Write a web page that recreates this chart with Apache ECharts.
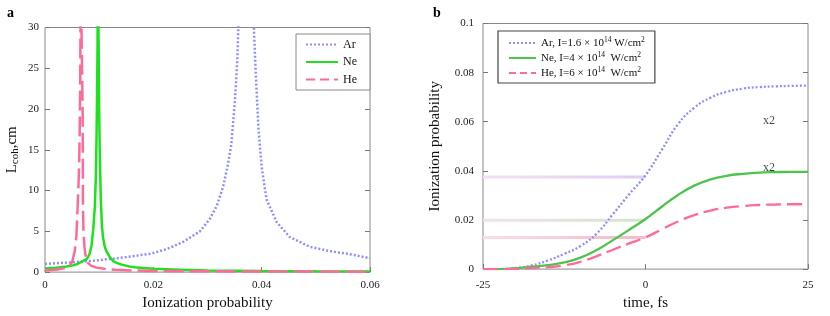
<!DOCTYPE html>
<html><head><meta charset="utf-8">
<script src="https://cdn.jsdelivr.net/npm/echarts@6/dist/echarts.min.js"></script>
<style>html,body{margin:0;padding:0;background:#fff}#c{width:830px;height:316px}</style>
</head><body><div id="c"></div>
<script>
// ---- Panel a: coherence length vs ionization probability ----
var probAr = [0, 0.005, 0.01, 0.015, 0.0194, 0.0224, 0.0255, 0.0286, 0.0304, 0.0317, 0.0329, 0.0338, 0.0344, 0.03505, 0.0355, 0.0357, 0.0359, 0.0384, 0.03856, 0.0389, 0.0394, 0.040, 0.0409, 0.0428, 0.0452, 0.0489, 0.0532, 0.0563, 0.06];
var lcohAr  = [1.0, 1.2, 1.45, 1.85, 2.24, 2.8, 3.7, 5.0, 6.5, 8.1, 10.5, 13.3, 15.7, 20.9, 26, 30, 38, 38, 30, 24.5, 17.7, 12.9, 8.9, 6.1, 4.3, 3.1, 2.5, 2.2, 1.7];
var probNe = [0, 0.002, 0.004, 0.005, 0.006, 0.007, 0.0077, 0.008, 0.0083, 0.0086, 0.0089, 0.0092, 0.0094, 0.0095, 0.0096, 0.0097, 0.00975, 0.00985, 0.0099, 0.010, 0.0101, 0.0103, 0.0105, 0.0107, 0.011, 0.0113, 0.012, 0.0126, 0.013, 0.014, 0.0155, 0.017, 0.020, 0.025, 0.030, 0.040, 0.050, 0.060];
var lcohNe  = [0.45, 0.52, 0.68, 0.8, 1.0, 1.35, 1.6, 1.9, 2.4, 3.3, 5.2, 8, 12, 16, 21, 28, 36, 36, 28, 20, 15, 9, 5.8, 4.3, 3.2, 2.6, 1.8, 1.35, 1.2, 0.95, 0.7, 0.55, 0.4, 0.28, 0.2, 0.14, 0.1, 0.08];
var probHe = [0, 0.002, 0.003, 0.004, 0.0045, 0.005, 0.0055, 0.0058, 0.006, 0.0062, 0.0063, 0.0064, 0.0065, 0.00655, 0.0066, 0.0069, 0.00695, 0.007, 0.0071, 0.0073, 0.0075, 0.0078, 0.0085, 0.0095, 0.011, 0.013, 0.016, 0.020, 0.030, 0.040, 0.060];
var lcohHe  = [0.2, 0.3, 0.4, 0.55, 0.75, 1.2, 2.6, 4.5, 7.5, 11, 13, 17, 23, 30, 36, 36, 20, 9, 5, 3, 2.0, 1.2, 0.8, 0.55, 0.4, 0.28, 0.2, 0.14, 0.1, 0.07, 0.05];

// ---- Panel b: ionization probability vs time ----
var timeFs = [-25, -22.5, -20, -17.5, -15, -12.5, -10, -7.5, -5, -2.5, 0, 2.5, 5, 7.5, 10, 12.5, 15, 17.5, 20, 22.5, 25];
var ionAr = [0, 0, 0.0004, 0.0015, 0.0035, 0.0062, 0.0094, 0.0145, 0.0224, 0.0305, 0.0382, 0.0485, 0.0590, 0.0657, 0.0698, 0.0722, 0.0735, 0.0741, 0.0744, 0.0746, 0.0747];
var ionNe = [0, 0, 0.0004, 0.001, 0.0016, 0.0027, 0.0047, 0.0078, 0.0118, 0.0160, 0.0204, 0.0254, 0.0302, 0.0340, 0.0365, 0.0380, 0.0388, 0.0393, 0.0395, 0.0396, 0.0396];
var ionHe = [0, 0, 0.0001, 0.0004, 0.0008, 0.0015, 0.003, 0.0053, 0.0079, 0.0105, 0.0129, 0.0162, 0.0194, 0.0220, 0.0238, 0.0250, 0.0257, 0.0261, 0.0263, 0.0264, 0.0264];
var refLevels = [0.0375, 0.0199, 0.0129];
var refStart = -25, refEnd = 0;
var legendB = {
  ArB: '{t|Ar, I=1.6 \u00d7 10}{s|14}{t| W/cm}{s|2}',
  NeB: '{t|Ne, I=4 \u00d7 10}{s|14}{t|  W/cm}{s|2}',
  HeB: '{t|He, I=6 \u00d7 10}{s|14}{t|  W/cm}{s|2}'
};
var annotT = [19, 19];
var annotP = [0.0603, 0.0414];
var annotText = ['x2', 'x2'];

function pairs(xs, ys) { return xs.map(function (x, i) { return [x, ys[i]]; }); }

var serif = 'Liberation Serif';
var cAr = '#8f8fff', cNeA = '#1fe01f', cNeB = '#4cc44c', cHe = '#ff6b98';

var chart = echarts.init(document.getElementById('c'), null, {renderer: 'canvas'});

var tickLbl = {fontFamily: serif, fontSize: 11, color: '#222'};
function yAx(gi, min, max, interval, pos, showLbl, name, nameGap, extra) {
  var o = {
    gridIndex: gi, type: 'value', min: min, max: max, interval: interval, position: pos,
    axisLine: {show: false, onZero: false}, splitLine: {show: false},
    axisTick: {show: true, inside: true, length: 5, lineStyle: {color: '#777'}},
    axisLabel: Object.assign({show: showLbl, margin: 6}, tickLbl)
  };
  if (name) { o.name = name; o.nameLocation = 'middle'; o.nameGap = nameGap; o.nameRotate = 90; }
  return Object.assign(o, extra || {});
}

var faded = [
  ['#f6dff0', '#dccff3'],
  ['#f6dff0', '#cfe8c9'],
  ['#fbdde8', '#f5b9c8']
];

var series = [
  {name: 'Ar', type: 'line', xAxisIndex: 0, yAxisIndex: 0, data: pairs(probAr, lcohAr), showSymbol: false, symbol: 'none', clip: true,
   lineStyle: {color: cAr, width: 2.5, type: [2, 2]}, itemStyle: {color: cAr}},
  {name: 'Ne', type: 'line', xAxisIndex: 0, yAxisIndex: 0, data: pairs(probNe, lcohNe), showSymbol: false, symbol: 'none', clip: true,
   lineStyle: {color: cNeA, width: 2.5}, itemStyle: {color: cNeA}},
  {name: 'He', type: 'line', xAxisIndex: 0, yAxisIndex: 0, data: pairs(probHe, lcohHe), showSymbol: false, symbol: 'none', clip: true,
   lineStyle: {color: cHe, width: 2.5, type: [20, 6]}, itemStyle: {color: cHe}}
];
refLevels.forEach(function (lv, i) {
  series.push({name: 'ref' + i, type: 'line', xAxisIndex: 1, yAxisIndex: 2, symbol: 'none', silent: true,
    data: [[refStart, lv], [refEnd, lv]],
    lineStyle: {width: 3, color: new echarts.graphic.LinearGradient(0, 0, 1, 0, [{offset: 0, color: faded[i][0]}, {offset: 1, color: faded[i][1]}])}});
});
series.push(
  {name: 'ArB', type: 'line', xAxisIndex: 1, yAxisIndex: 2, data: pairs(timeFs, ionAr), smooth: 0.5, symbol: 'none',
   lineStyle: {color: cAr, width: 2.3, type: [2, 2]}, itemStyle: {color: cAr}},
  {name: 'NeB', type: 'line', xAxisIndex: 1, yAxisIndex: 2, data: pairs(timeFs, ionNe), smooth: 0.5, symbol: 'none',
   lineStyle: {color: cNeB, width: 2.3}, itemStyle: {color: cNeB}},
  {name: 'HeB', type: 'line', xAxisIndex: 1, yAxisIndex: 2, data: pairs(timeFs, ionHe), smooth: 0.5, symbol: 'none',
   lineStyle: {color: cHe, width: 2.3, type: [15, 6]}, itemStyle: {color: cHe}},
  {name: 'annot', type: 'scatter', xAxisIndex: 1, yAxisIndex: 2, symbol: 'circle', symbolSize: 0.1, silent: true,
   itemStyle: {color: 'rgba(0,0,0,0)'},
   data: annotT.map(function (t, i) { return {value: [t, annotP[i]], label: {formatter: annotText[i]}}; }),
   label: {show: true, position: 'inside', fontFamily: serif, fontSize: 12, color: '#111'}}
);

var hideSym = {opacity: 0};
var option = {
  animation: false,
  backgroundColor: '#fff',
  title: [
    {text: 'a', left: 2, top: 1, textStyle: {fontFamily: serif, fontWeight: 'bold', fontSize: 14, color: '#000'}},
    {text: 'b', left: 428, top: 1, textStyle: {fontFamily: serif, fontWeight: 'bold', fontSize: 14, color: '#000'}}
  ],
  grid: [
    {left: 45, right: 460, top: 27.5, bottom: 38.5, show: true, borderColor: '#888', borderWidth: 1, backgroundColor: 'transparent'},
    {left: 483, right: 22, top: 23.5, bottom: 39.5, show: true, borderColor: '#888', borderWidth: 1, backgroundColor: 'transparent'}
  ],
  xAxis: [
    {gridIndex: 0, type: 'value', min: 0, max: 0.06, interval: 0.02,
     axisLine: {show: false, onZero: false}, splitLine: {show: false},
     axisTick: {show: true, inside: true, length: 5, lineStyle: {color: '#777'}},
     axisLabel: Object.assign({margin: 8}, tickLbl),
     name: 'Ionization probability', nameLocation: 'middle', nameGap: 23,
     nameTextStyle: {fontFamily: serif, fontSize: 15, color: '#111'}},
    {gridIndex: 1, type: 'value', min: -25, max: 25, interval: 25,
     axisLine: {show: false, onZero: false}, splitLine: {show: false},
     axisTick: {show: true, inside: true, length: 5, lineStyle: {color: '#777'}},
     axisLabel: Object.assign({margin: 11}, tickLbl),
     name: 'time, fs', nameLocation: 'middle', nameGap: 25,
     nameTextStyle: {fontFamily: serif, fontSize: 15, color: '#111'}}
  ],
  yAxis: [
    yAx(0, 0, 30, 5, 'left', true, '{a|L}{s|coh}{a|,cm}', 24, {
      nameTextStyle: {rich: {a: {fontFamily: serif, fontSize: 15, color: '#111', lineHeight: 18},
                              s: {fontFamily: serif, fontSize: 11, color: '#111', verticalAlign: 'bottom', lineHeight: 18, padding: [6, 0, 0, 0]}}}
    }),
    yAx(0, 0, 30, 5, 'right', false),
    yAx(1, 0, 0.1, 0.02, 'left', true, 'Ionization probability', 40, {
      axisLabel: Object.assign({show: true, margin: 9}, tickLbl),
      nameTextStyle: {fontFamily: serif, fontSize: 15, color: '#111'}
    }),
    yAx(1, 0, 0.1, 0.02, 'right', false)
  ],
  legend: [
    {orient: 'vertical', left: 296, top: 34, padding: [3.5, 13, 3.5, 9], itemWidth: 32, itemHeight: 12, itemGap: 3.5,
     borderColor: '#888', borderWidth: 1, backgroundColor: '#fff', itemStyle: hideSym,
     data: [{name: 'Ar'}, {name: 'Ne'}, {name: 'He', lineStyle: {type: [9, 5]}}],
     textStyle: {fontFamily: serif, fontSize: 12, color: '#111', lineHeight: 14}, selectedMode: false},
    {orient: 'vertical', left: 498, top: 31, padding: [5, 10, 4.5, 10], itemWidth: 27, itemHeight: 12, itemGap: 2.5,
     borderColor: '#444', borderWidth: 1.2, backgroundColor: '#fff', itemStyle: hideSym,
     data: [{name: 'ArB'}, {name: 'NeB'}, {name: 'HeB', lineStyle: {type: [7, 4]}}],
     formatter: function (n) { return legendB[n]; },
     textStyle: {rich: {t: {fontFamily: serif, fontSize: 11, color: '#111', lineHeight: 14},
                        s: {fontFamily: serif, fontSize: 7.5, color: '#111', verticalAlign: 'top', lineHeight: 14}}},
     selectedMode: false}
  ],
  series: series
};
chart.setOption(option);
</script></body></html>
